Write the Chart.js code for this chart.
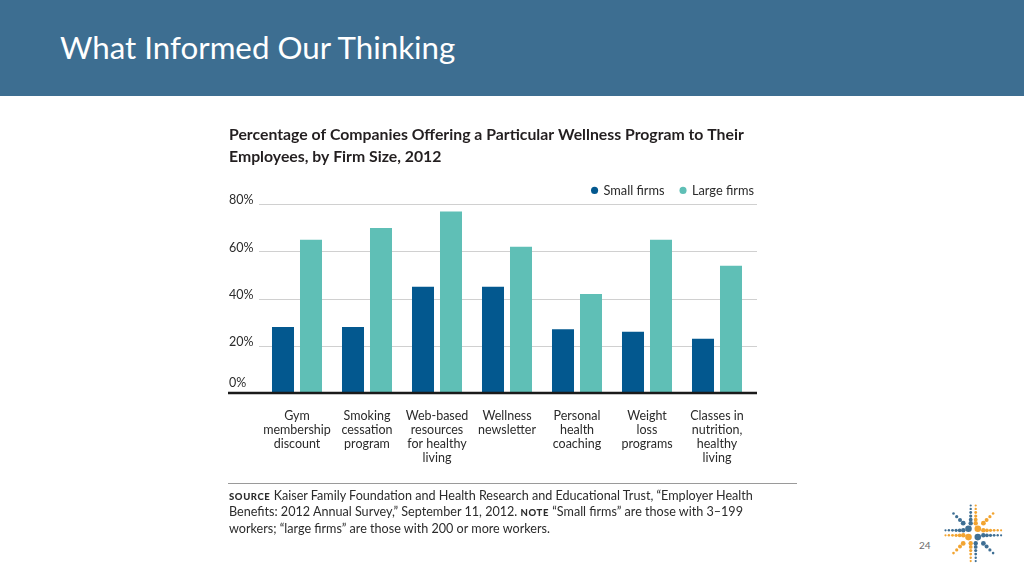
<!DOCTYPE html>
<html>
<head>
<meta charset="utf-8">
<script src="https://cdn.jsdelivr.net/npm/chart.js@4.4.1/dist/chart.umd.min.js"></script>
<style>
  html, body { margin: 0; padding: 0; }
  body { width: 1024px; height: 576px; position: relative; overflow: hidden; background: #ffffff; font-family: Lato, "Open Sans", sans-serif; }
  #header { position: absolute; left: 0; top: 0; width: 1024px; height: 96px; background: #3d6e91; }
  #slideTitle { position: absolute; left: 60px; top: 32px; font-family: Lato, sans-serif; font-size: 31.3px; line-height: 31px; color: #ffffff; white-space: nowrap; }
  #chartBox { position: absolute; left: 220px; top: 110px; width: 580px; height: 376px; }
  #rule { position: absolute; left: 228px; top: 483px; width: 569px; height: 0; border-top: 1.5px solid #9a9a9a; }
  #source { position: absolute; left: 229px; top: 488px; font-size: 12.6px; line-height: 15.4px; color: #2b2b2b; white-space: nowrap; }
  #source b { font-size: 9.5px; letter-spacing: 0.6px; font-weight: 900; }
  #pageNum { position: absolute; left: 919px; top: 539px; font-size: 10px; color: #6b6b6b; }
  #logo { position: absolute; left: 940px; top: 500px; }
</style>
</head>
<body>
<div id="header"><div id="slideTitle">What Informed Our Thinking</div></div>
<div id="chartBox"><canvas id="chart" width="580" height="376"></canvas></div>
<div id="rule"></div>
<div id="source"><b>SOURCE</b> Kaiser Family Foundation and Health Research and Educational Trust, “Employer Health<br>Benefits: 2012 Annual Survey,” September 11, 2012. <b>NOTE</b> “Small firms” are those with 3–199<br>workers; “large firms” are those with 200 or more workers.</div>
<div id="pageNum">24</div>
<svg id="logo" width="66" height="66" viewBox="0 0 66 66"></svg>
<script>
// ---- data ----
const categories = [
  ["Gym", "membership", "discount"],
  ["Smoking", "cessation", "program"],
  ["Web-based", "resources", "for healthy", "living"],
  ["Wellness", "newsletter"],
  ["Personal", "health", "coaching"],
  ["Weight", "loss", "programs"],
  ["Classes in", "nutrition,", "healthy", "living"]
];
const seriesNames = ["Small firms", "Large firms"];
const smallFirms = [28, 28, 45, 45, 27, 26, 23];
const largeFirms = [65, 70, 77, 62, 42, 65, 54];
const yTickValues = [0, 20, 40, 60, 80];
const chartTitle = ["Percentage of Companies Offering a Particular Wellness Program to Their", "Employees, by Firm Size, 2012"];

const SMALL_COLOR = "#03588f";
const LARGE_COLOR = "#5fbfb6";
const TEXT_COLOR = "#2b2b2b";

const gridPlugin = {
  id: "customGrid",
  afterInit(chart) {
    // tighten the gap between the legend row and the plot area
    const lg = chart.legend;
    if (lg && !lg._tight) {
      const origFit = lg.fit.bind(lg);
      lg.fit = function () { origFit(); this.height = Math.max(0, this.height - 2.5); };
      lg._tight = true;
    }
  },
  beforeDatasetsDraw(chart) {
    const ys = chart.scales.y, ca = chart.chartArea, ctx = chart.ctx;
    ctx.save();
    ctx.strokeStyle = "#d0d0d0";
    ctx.lineWidth = 1;
    ys.ticks.forEach(t => {
      if (t.value === 0) return;
      const py = Math.round(ys.getPixelForValue(t.value)) + 0.5;
      ctx.beginPath();
      ctx.moveTo(ca.left - 3, py);
      ctx.lineTo(ca.right + 5, py);
      ctx.stroke();
    });
    ctx.restore();
  },
  afterDatasetsDraw(chart) {
    const ys = chart.scales.y, ca = chart.chartArea, ctx = chart.ctx;
    const py = ys.getPixelForValue(0);
    ctx.save();
    ctx.strokeStyle = "#1a1a1a";
    ctx.lineWidth = 2.5;
    ctx.beginPath();
    ctx.moveTo(ys.left - 1, py);
    ctx.lineTo(ca.right + 5, py);
    ctx.stroke();
    ctx.restore();
  }
};

new Chart(document.getElementById("chart"), {
  type: "bar",
  data: {
    labels: categories,
    datasets: [
      { label: seriesNames[0], data: smallFirms, backgroundColor: SMALL_COLOR, borderWidth: 0, categoryPercentage: 0.8, barPercentage: 0.786 },
      { label: seriesNames[1], data: largeFirms, backgroundColor: LARGE_COLOR, borderWidth: 0, categoryPercentage: 0.8, barPercentage: 0.786 }
    ]
  },
  options: {
    responsive: false,
    animation: false,
    devicePixelRatio: 1,
    layout: { padding: { left: 9, right: 30, top: 0, bottom: 5 } },
    plugins: {
      tooltip: { enabled: false },
      title: {
        display: true,
        text: chartTitle,
        align: "start",
        color: "#231f20",
        font: { family: "Lato", size: 15.8, weight: "bold", lineHeight: 22 / 15.8 },
        padding: { top: 14, bottom: 0 }
      },
      legend: {
        display: true,
        position: "top",
        align: "end",
        labels: {
          usePointStyle: true,
          pointStyle: "circle",
          boxWidth: 5,
          boxHeight: 5,
          padding: 16,
          color: TEXT_COLOR,
          font: { family: "Lato", size: 12.8 }
        }
      }
    },
    scales: {
      x: {
        type: "category",
        grid: { display: false, drawTicks: false },
        border: { display: false },
        ticks: {
          color: TEXT_COLOR,
          padding: 16,
          maxRotation: 0,
          autoSkip: false,
          font: { family: "Lato", size: 12.5, lineHeight: 14 / 12.5 }
        }
      },
      y: {
        min: 0,
        max: 80,
        afterBuildTicks(scale) { scale.ticks = yTickValues.map(v => ({ value: v })); },
        afterFit(scale) { scale.width = 33; },
        grid: { display: false, drawTicks: false },
        border: { display: false },
        ticks: {
          color: TEXT_COLOR,
          crossAlign: "far",
          labelOffset: -4,
          padding: 0,
          font: { family: "Lato", size: 12.5, lineHeight: 1 },
          callback: v => (v === 0 ? ["0%", ""] : v + "%")
        }
      },
      yRight: {
        position: "right",
        display: true,
        afterFit(scale) { scale.width = 18; },
        grid: { display: false, drawTicks: false },
        border: { display: false },
        ticks: { display: false }
      }
    }
  },
  plugins: [gridPlugin]
});

// ---- decorative logo ----
(function () {
  const svg = document.getElementById("logo");
  const BLUE = "#3f6f94", ORANGE = "#f2a431";
  const cx = 33.3, cy = 33.3;
  const dots = [];
  const add = (x, y, r, c) => dots.push(`<circle cx="${x.toFixed(1)}" cy="${y.toFixed(1)}" r="${r}" fill="${c}"/>`);
  add(cx - 4.8, cy - 4.5, 3.3, BLUE);
  add(cx + 4.5, cy - 4.5, 3.3, ORANGE);
  add(cx - 4.8, cy + 3.8, 3.3, ORANGE);
  add(cx + 4.5, cy + 3.8, 3.3, BLUE);
  const dists = [10, 13.6, 17.2, 20.8, 24.4, 27.8];
  const radii = [2.2, 1.9, 1.6, 1.4, 1.2, 1.1];
  const rays = [
    [0, -1, -2.6, BLUE], [0, -1, 2.4, ORANGE],
    [0, 1, -2.6, ORANGE], [0, 1, 2.4, BLUE],
    [-1, 0, -3.0, BLUE], [-1, 0, 2.0, ORANGE],
    [1, 0, -3.0, ORANGE], [1, 0, 2.0, BLUE]
  ];
  rays.forEach(([dx, dy, off, c]) => {
    dists.forEach((d, i) => {
      const x = cx + dx * d + (dx === 0 ? off : 0);
      const y = cy + dy * d + (dy === 0 ? off : 0);
      add(x, y, radii[i], c);
    });
  });
  const diag = [[-1, -1, BLUE], [1, -1, ORANGE], [-1, 1, ORANGE], [1, 1, BLUE]];
  const dd = [14, 18.5, 23, 27.5];
  const dr = [2.4, 2.0, 1.6, 1.3];
  diag.forEach(([dx, dy, c]) => {
    dd.forEach((d, i) => add(cx + dx * d * 0.72, cy + dy * d * 0.72, dr[i], c));
  });
  svg.innerHTML = dots.join("");
})();
</script>
</body>
</html>
